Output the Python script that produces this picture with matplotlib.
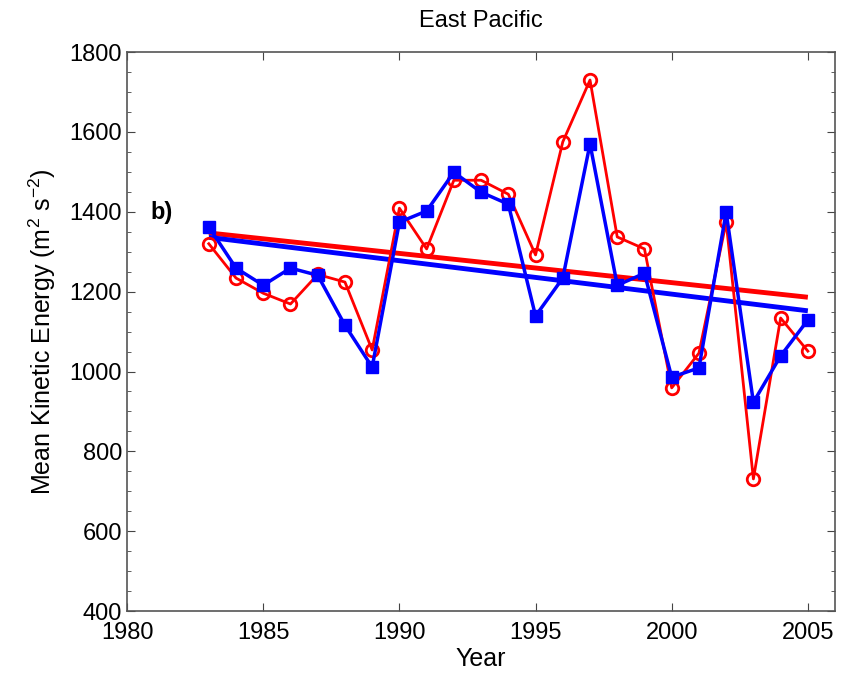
import matplotlib.pyplot as plt
import numpy as np
from matplotlib.ticker import MultipleLocator

plt.rcParams["font.family"] = ["Liberation Sans", "DejaVu Sans"]
plt.rcParams["mathtext.fontset"] = "custom"
plt.rcParams["mathtext.rm"] = "Liberation Sans"

# ── Data ──
years = list(range(1983, 2006))
red_vals = [1320, 1234, 1196, 1169, 1243, 1224, 1054, 1409, 1307, 1479, 1479,
            1444, 1292, 1575, 1730, 1337, 1307, 959, 1046, 1374, 731, 1134, 1051]
blue_vals = [1362, 1259, 1216, 1259, 1241, 1116, 1011, 1374, 1402, 1499, 1449,
             1419, 1139, 1234, 1570, 1216, 1246, 986, 1009, 1399, 923, 1039, 1129]

# linear trend end points
trend_years = [1983, 2005]
red_trend = [1347, 1186]
blue_trend = [1336, 1152]

fig = plt.figure(figsize=(8.53, 6.76), dpi=100)
ax = fig.add_axes([0.149, 0.096, 0.83, 0.827])

red = "#ff0000"
blue = "#0000ff"

ax.plot(trend_years, red_trend, color=red, linewidth=3.5, solid_capstyle="butt")
ax.plot(trend_years, blue_trend, color=blue, linewidth=3.5, solid_capstyle="butt")
ax.plot(years, red_vals, color=red, linewidth=2, marker="o", markersize=9,
        markerfacecolor="none", markeredgecolor=red, markeredgewidth=2)
ax.plot(years, blue_vals, color=blue, linewidth=2.5, marker="s", markersize=8,
        markerfacecolor=blue, markeredgecolor=blue)

ax.set_xlim(1980, 2006)
ax.set_ylim(400, 1800)
ax.set_xticks([1980, 1985, 1990, 1995, 2000, 2005])
ax.yaxis.set_major_locator(MultipleLocator(200))
ax.yaxis.set_minor_locator(MultipleLocator(50))
ax.tick_params(axis="both", which="both", direction="in", top=True, right=True,
               labelsize=17, color="#444444")
ax.tick_params(which="major", length=6)
ax.tick_params(which="minor", length=3)
ax.tick_params(axis="x", pad=8)
for s in ax.spines.values():
    s.set_color("#555555")
    s.set_linewidth(1.2)

ax.set_title("East Pacific", fontsize=17, pad=18)
ax.set_xlabel("Year", fontsize=18, labelpad=2)
ax.set_ylabel("Mean Kinetic Energy (m$^{2}$ s$^{-2}$)", fontsize=18, labelpad=8)
ax.text(0.049, 0.713, "b)", transform=ax.transAxes, fontsize=17,
        fontweight="bold", ha="center", va="center")

plt.savefig("out.png", dpi=100)
